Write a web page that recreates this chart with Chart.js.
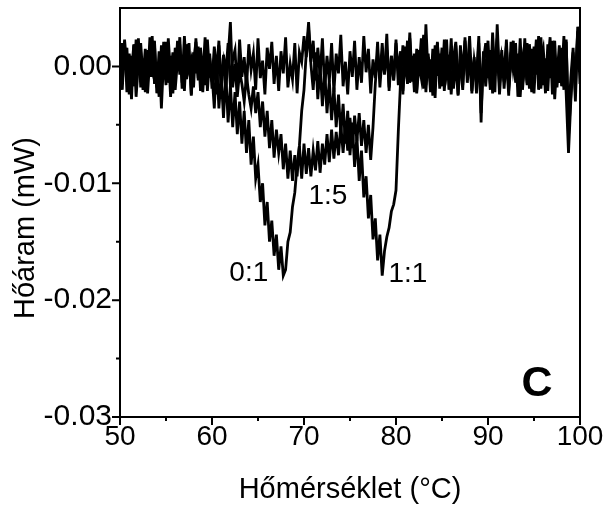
<!DOCTYPE html>
<html>
<head>
<meta charset="utf-8">
<script src="https://cdn.jsdelivr.net/npm/chart.js@4/dist/chart.umd.min.js"></script>
<style>
  html, body { margin: 0; padding: 0; background: #fff; }
</style>
</head>
<body>
<canvas id="dsc" width="605" height="511"></canvas>
<script>
// temperature grid, °C
const temps = [
  50,50.25,50.5,50.75,51,51.25,51.5,51.75,52,52.25,52.5,52.75,53,53.25,53.5,53.75,54,54.25,54.5,54.75,
  55,55.25,55.5,55.75,56,56.25,56.5,56.75,57,57.25,57.5,57.75,58,58.25,58.5,58.75,59,59.25,59.5,59.75,
  60,60.25,60.5,60.75,61,61.25,61.5,61.75,62,62.25,62.5,62.75,63,63.25,63.5,63.75,64,64.25,64.5,64.75,
  65,65.25,65.5,65.75,66,66.25,66.5,66.75,67,67.25,67.5,67.75,68,68.25,68.5,68.75,69,69.25,69.5,69.75,
  70,70.25,70.5,70.75,71,71.25,71.5,71.75,72,72.25,72.5,72.75,73,73.25,73.5,73.75,74,74.25,74.5,74.75,
  75,75.25,75.5,75.75,76,76.25,76.5,76.75,77,77.25,77.5,77.75,78,78.25,78.5,78.75,79,79.25,79.5,79.75,
  80,80.25,80.5,80.75,81,81.25,81.5,81.75,82,82.25,82.5,82.75,83,83.25,83.5,83.75,84,84.25,84.5,84.75,
  85,85.25,85.5,85.75,86,86.25,86.5,86.75,87,87.25,87.5,87.75,88,88.25,88.5,88.75,89,89.25,89.5,89.75,
  90,90.25,90.5,90.75,91,91.25,91.5,91.75,92,92.25,92.5,92.75,93,93.25,93.5,93.75,94,94.25,94.5,94.75,
  95,95.25,95.5,95.75,96,96.25,96.5,96.75,97,97.25,97.5,97.75,98,98.25,98.5,98.75,99,99.25,99.5,99.75,
  100
];

// heat flow, in µW (1 µW = 0.001 mW)
const flow01 = [
  1.5,-2.0,2.2,-1.2,0.8,-2.8,1.9,-0.5,2.4,-1.8,0.6,-2.2,1.4,-0.9,2.6,-1.5,0.3,-2.6,1.8,-0.7,
  2.1,-1.4,0.9,-2.3,1.6,-0.4,2.5,-1.9,0.7,-1.1,2.0,-2.5,1.2,-0.6,1.7,-2.1,0.5,-1.6,2.3,-0.8,
  -0.6,-3.6,0.6,-3.6,-0.8,-4.4,-0.6,-4.8,-1.6,-5.2,-2.2,-5.8,-3.0,-6.6,-3.8,-7.4,-4.6,-8.4,-6.0,-9.6,
  -8.4,-11.6,-10.0,-13.6,-11.6,-15.0,-13.2,-16.2,-14.4,-17.4,-15.4,-17.9,-17.4,-15.0,-14.2,-12.0,-10.8,-8.4,-6.8,-3.8,
  -2.0,1.2,3.8,0.4,2.2,-1.2,1.6,-0.8,2.4,-1.9,0.9,-1.3,2.0,-2.2,1.1,-0.6,2.7,-1.7,0.4,-2.4,
  1.3,-0.9,2.2,-2.0,0.8,-1.4,2.6,-0.5,1.5,-2.3,0.6,-1.0,2.1,-1.8,1.0,-0.7,2.8,-2.1,0.9,-1.2,
  2.3,-1.6,0.5,-2.4,1.7,-0.8,2.9,-1.3,0.7,-2.0,1.4,-0.4,2.5,-2.2,1.1,-1.5,0.6,-2.7,2.0,-0.9,
  1.6,-2.1,0.9,-1.2,2.4,-1.9,0.3,-2.5,1.8,-0.6,2.2,-1.4,1.0,-2.3,0.5,-1.0,2.6,-4.8,1.3,-1.7,
  0.8,-2.0,2.9,-0.8,1.5,-2.4,0.6,-1.3,2.3,-1.8,1.2,-0.5,2.0,-2.6,0.9,-1.1,2.4,-1.6,0.4,-2.2,
  1.7,-0.7,2.6,-1.9,0.5,-2.3,1.9,-1.0,2.2,-2.8,0.7,-1.4,1.6,-2.0,2.3,-6.0,-2.5,1.2,-3.0,2.8,
  -1.5
];
const flow15 = [
  -1.2,2.0,-0.3,1.6,-2.4,0.9,-1.7,2.3,-0.6,1.2,-2.0,0.4,-1.4,2.5,-0.9,1.8,-2.3,0.2,-1.1,2.1,
  -0.5,1.4,-2.6,0.8,-1.3,2.2,-0.7,1.0,-2.1,1.9,-0.2,0.6,-1.8,2.4,-1.0,0.7,-2.2,1.5,-0.4,1.1,
  -1.9,0.5,-2.4,1.8,-1.1,0.3,-2.0,0.8,3.8,-1.8,0.2,-2.6,-0.4,-1.5,-3.0,-0.8,-2.4,-3.6,-1.7,-4.0,
  -2.2,-5.2,-3.0,-6.0,-3.8,-7.0,-4.6,-7.8,-5.4,-7.4,-5.8,-8.8,-6.6,-9.6,-7.2,-9.8,-7.6,-9.4,-6.8,-9.6,
  -6.6,-9.2,-7.0,-9.4,-7.2,-8.9,-6.4,-9.1,-6.6,-8.4,-5.8,-8.2,-5.4,-7.9,-5.6,-7.6,-5.0,-7.4,-4.8,-7.2,
  -4.4,-7.0,-4.2,-6.4,-4.0,-6.8,-4.6,-7.4,-5.0,-8.0,-5.2,-1.5,1.2,-1.0,2.0,-0.6,1.4,-1.8,0.9,-1.2,
  2.0,-0.4,1.3,-2.1,0.6,-1.5,2.4,-0.9,1.1,-2.3,0.2,-1.0,2.7,-1.6,0.8,-2.2,1.5,-0.3,2.1,-1.9,
  0.4,-1.2,2.3,-2.0,1.0,-0.5,1.8,-2.4,0.7,-1.6,2.5,-0.8,1.2,-2.1,0.3,-1.4,2.0,-2.7,0.9,-0.6,
  2.2,-1.5,0.6,-2.2,3.6,-0.9,1.4,-1.9,0.8,-2.5,2.1,-0.3,1.0,-1.7,2.4,-2.0,0.5,-1.2,1.9,-0.7,
  -2.3,1.3,-0.8,2.5,-1.6,0.7,-2.1,1.6,-0.4,2.2,-1.8,0.9,-1.1,2.6,-2.4,-7.4,-3.0,0.4,-1.0,3.0,
  0.5
];
const flow11 = [
  0.6,-1.5,2.3,-2.2,1.1,-0.4,1.8,-2.6,0.3,2.0,-1.0,1.5,-2.3,0.9,-0.2,2.2,-1.8,1.3,-3.6,0.8,
  -1.6,2.4,-0.8,1.2,-2.0,0.5,1.9,-1.4,2.6,-0.6,1.0,-2.4,0.4,2.1,-1.2,1.6,-0.9,2.5,-2.1,0.7,
  -1.3,1.7,-0.5,2.2,-2.3,1.0,-0.7,2.0,-1.7,0.6,1.4,-2.2,2.3,-0.9,0.8,-1.9,1.9,-0.3,1.1,-2.0,
  2.4,-1.0,0.5,-2.4,1.6,-0.2,2.1,-1.5,0.9,-2.1,1.3,-0.6,2.5,-1.8,0.2,-1.1,2.0,-2.3,1.2,0.4,
  2.6,0.8,3.2,0.2,-2.0,1.2,-2.8,0.0,-3.4,-0.4,-4.0,-1.2,-4.6,-1.8,-5.2,-2.4,-5.8,-3.2,-6.6,-3.8,
  -7.6,-4.8,-8.6,-6.0,-9.8,-7.2,-11.2,-9.4,-13.0,-11.0,-14.8,-13.0,-16.6,-14.4,-17.9,-15.8,-14.6,-13.8,-12.4,-11.8,
  -10.6,-5.6,-1.2,1.8,-0.6,2.2,-1.4,0.9,-2.2,1.5,-0.3,2.4,-1.9,3.6,-1.0,0.6,-2.5,1.8,-0.8,1.1,
  -1.7,2.3,-0.5,1.0,-2.4,0.7,2.1,-1.2,0.3,-2.0,1.6,-0.4,2.6,-1.5,0.8,-2.3,1.3,-4.0,0.5,2.0,
  -1.0,1.4,-2.3,0.6,2.4,-1.6,0.9,-0.2,1.8,-2.1,0.4,2.2,-1.4,1.1,-2.6,0.7,-0.5,2.0,-1.9,1.5,
  -0.6,2.3,-2.0,0.8,1.6,-1.3,0.2,2.5,-2.4,1.0,-0.9,1.8,-1.7,0.5,2.1,-4.5,-1.0,1.6,-2.2,3.4,
  1.0
];

const xTicks = [50, 60, 70, 80, 90, 100];
const xMinor = [55, 65, 75, 85, 95];
const yTicks = [-0.03, -0.02, -0.01, 0];
const yTickLabels = ['-0.03', '-0.02', '-0.01', '0.00'];
const yMinor = [-0.025, -0.015, -0.005];

// curve labels (temperature, mW)
const notes = [
  { text: '0:1', t: 64.0, v: -0.0177 },
  { text: '1:5', t: 72.6, v: -0.0111 },
  { text: '1:1', t: 81.3, v: -0.0178 }
];

const FONT = "'Liberation Sans', Arial, sans-serif";

const toPoints = arr => arr.map((v, i) => ({ x: temps[i], y: v / 1000 }));

const lineSet = (label, arr) => ({
  label: label,
  data: toPoints(arr),
  borderColor: '#000',
  borderWidth: 2.8,
  borderJoinStyle: 'miter',
  pointRadius: 0,
  tension: 0,
  fill: false
});

const decor = {
  id: 'decor',
  afterDatasetsDraw(chart) {
    const { ctx, chartArea: a, scales: { x, y } } = chart;
    ctx.save();
    ctx.strokeStyle = '#000';
    ctx.lineWidth = 2;
    ctx.strokeRect(a.left, a.top, a.right - a.left, a.bottom - a.top);

    // tick marks, outward
    ctx.beginPath();
    xTicks.forEach(t => { const p = x.getPixelForValue(t); ctx.moveTo(p, a.bottom); ctx.lineTo(p, a.bottom + 8); });
    xMinor.forEach(t => { const p = x.getPixelForValue(t); ctx.moveTo(p, a.bottom); ctx.lineTo(p, a.bottom + 4); });
    yTicks.forEach(v => { const p = y.getPixelForValue(v); ctx.moveTo(a.left, p); ctx.lineTo(a.left - 8, p); });
    yMinor.forEach(v => { const p = y.getPixelForValue(v); ctx.moveTo(a.left, p); ctx.lineTo(a.left - 4, p); });
    ctx.stroke();

    ctx.fillStyle = '#000';
    ctx.textAlign = 'center';
    ctx.textBaseline = 'middle';
    ctx.font = '28px ' + FONT;
    notes.forEach(n => ctx.fillText(n.text, x.getPixelForValue(n.t), y.getPixelForValue(n.v)));

    ctx.font = 'bold 43px ' + FONT;
    ctx.fillText('C', 537, 384);

    // axis titles
    ctx.font = '29px ' + FONT;
    ctx.textBaseline = 'alphabetic';
    ctx.fillText('Hőmérséklet (°C)', (a.left + a.right) / 2, 498);
    ctx.translate(34, 228);
    ctx.rotate(-Math.PI / 2);
    ctx.fillText('Hőáram (mW)', 0, 0);
    ctx.restore();
  }
};

new Chart(document.getElementById('dsc').getContext('2d'), {
  type: 'line',
  data: {
    datasets: [
      lineSet('0:1', flow01),
      lineSet('1:5', flow15),
      lineSet('1:1', flow11)
    ]
  },
  options: {
    responsive: false,
    animation: false,
    layout: { padding: { top: 8, right: 25, left: 0, bottom: 0 } },
    plugins: {
      legend: { display: false },
      tooltip: { enabled: false }
    },
    scales: {
      x: {
        type: 'linear',
        min: 50,
        max: 100,
        afterBuildTicks: s => { s.ticks = xTicks.map(v => ({ value: v })); },
        afterFit: s => { s.height = 94; s.paddingLeft = 0; s.paddingRight = 0; },
        grid: { display: false, drawTicks: false },
        border: { display: false },
        ticks: {
          color: '#000',
          font: { family: FONT, size: 28 },
          padding: 3,
          maxRotation: 0,
          autoSkip: false
        }
      },
      y: {
        type: 'linear',
        min: -0.03,
        max: 0.005,
        afterBuildTicks: s => { s.ticks = yTicks.map(v => ({ value: v })); },
        afterFit: s => { s.width = 120; s.paddingTop = 0; s.paddingBottom = 0; },
        grid: { display: false, drawTicks: false },
        border: { display: false },
        ticks: {
          color: '#000',
          font: { family: FONT, size: 30 },
          padding: 8,
          callback: (v, i) => yTickLabels[i]
        }
      }
    }
  },
  plugins: [decor]
});
</script>
</body>
</html>
